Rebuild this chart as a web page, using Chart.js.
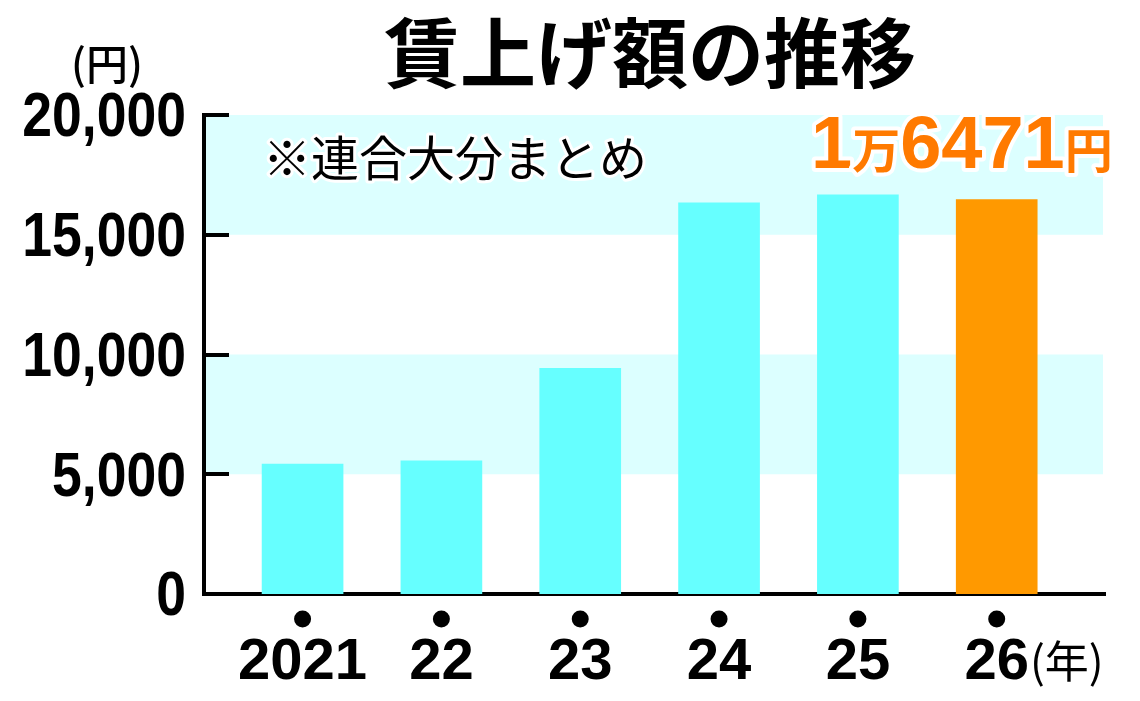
<!DOCTYPE html>
<html lang="ja">
<head>
<meta charset="utf-8">
<script src="https://cdn.jsdelivr.net/npm/chart.js@4/dist/chart.umd.min.js"></script>
<style>
  html, body { margin: 0; padding: 0; background: #fff; }
  canvas { display: block; }
</style>
</head>
<body>
<canvas id="chin-diagram" width="1140" height="701"></canvas>
<script>
// 賃上げ額の推移 (連合大分まとめ)

// データ
const categories = ['2021', '22', '23', '24', '25', '26'];
const wageIncrease = [5420, 5560, 9420, 16330, 16670, 16471];
const yTickValues = [0, 5000, 10000, 15000, 20000];
const yTickLabels = ['0', '5,000', '10,000', '15,000', '20,000'];
const shadedBands = [[5000, 10000], [15000, 20000]];

// テキスト
const titleText = '賃上げ額の推移';
const unitText = '(円)';
const yearUnitText = '(年)';
const noteText = '※連合大分まとめ';
const highlightParts = ['1', '万', '6471', '円'];

// 色
const barColor = '#66ffff';
const highlightBarColor = '#ff9900';
const bandColor = '#dcffff';
const highlightTextColor = '#ff7a00';

const jpFont = "'Noto Sans CJK JP', 'Noto Sans', sans-serif";
const numFont = "'Liberation Sans', Arial, sans-serif";

// 背景・帯・目盛り・文字を描くプラグイン
const decorPlugin = {
    id: 'decor',
    beforeDraw(chart) {
        const ctx = chart.ctx;
        ctx.save();
        ctx.fillStyle = '#fff';
        ctx.fillRect(0, 0, chart.width, chart.height);
        ctx.restore();
    },
    beforeDatasetsDraw(chart) {
        const ctx = chart.ctx;
        const area = chart.chartArea;
        const y = chart.scales.y;
        ctx.save();
        ctx.fillStyle = bandColor;
        shadedBands.forEach(b => {
            const top = y.getPixelForValue(b[1]);
            const bottom = y.getPixelForValue(b[0]);
            ctx.fillRect(area.left + 2, top, area.right - area.left - 4, bottom - top);
        });
        ctx.restore();
    },
    afterDraw(chart) {
        const ctx = chart.ctx;
        const area = chart.chartArea;
        const x = chart.scales.x;
        const y = chart.scales.y;
        ctx.save();

        // 内向きの目盛り
        ctx.strokeStyle = '#000';
        ctx.lineWidth = 4;
        yTickValues.slice(1).forEach(v => {
            const py = Math.round(y.getPixelForValue(v));
            ctx.beginPath();
            ctx.moveTo(area.left, py);
            ctx.lineTo(area.left + 25, py);
            ctx.stroke();
        });

        // 縦軸ラベル(長体)
        ctx.fillStyle = '#000';
        ctx.font = 'bold 63px ' + numFont;
        ctx.textAlign = 'right';
        ctx.textBaseline = 'middle';
        yTickValues.forEach((v, i) => {
            ctx.save();
            ctx.translate(186, y.getPixelForValue(v) + 4);
            ctx.scale(0.85, 1);
            ctx.fillText(yTickLabels[i], 0, 0);
            ctx.restore();
        });

        // 年ラベル上の黒丸
        categories.forEach((c, i) => {
            ctx.beginPath();
            ctx.arc(x.getPixelForValue(i), area.bottom + 25, 8.5, 0, Math.PI * 2);
            ctx.fill();
        });

        // (年)
        ctx.font = 'bold 58px ' + numFont;
        const lastW = ctx.measureText(categories[categories.length - 1]).width;
        ctx.font = '44px ' + jpFont;
        ctx.textAlign = 'left';
        ctx.fillText(yearUnitText, x.getPixelForValue(categories.length - 1) + lastW / 2 + 1, 661);

        // タイトル
        ctx.font = 'bold 76px ' + jpFont;
        ctx.textAlign = 'center';
        ctx.fillText(titleText, 650, 53);

        // (円)
        ctx.font = '500 42px ' + jpFont;
        ctx.fillText(unitText, 107, 64);

        // 注記
        ctx.font = '48px ' + jpFont;
        ctx.textAlign = 'left';
        ctx.lineJoin = 'round';
        ctx.strokeStyle = '#fff';
        ctx.lineWidth = 6;
        ctx.strokeText(noteText, 263, 158);
        ctx.fillText(noteText, 263, 158);

        // 1万6471円
        let px = 811;
        ctx.textBaseline = 'alphabetic';
        highlightParts.forEach((t, i) => {
            ctx.font = i % 2 === 0 ? 'bold 74px ' + numFont : 'bold 48px ' + jpFont;
            ctx.lineWidth = 8;
            ctx.strokeStyle = '#fff';
            ctx.strokeText(t, px, 168);
            ctx.fillStyle = highlightTextColor;
            ctx.fillText(t, px, 168);
            px += ctx.measureText(t).width;
        });

        ctx.restore();
    }
};

const diagramVaszon = document.getElementById('chin-diagram');

const config = {
    type: 'bar',
    data: {
        datasets: [{
            label: '賃上げ額',
            data: wageIncrease.map((v, i) => ({ x: i, y: v })),
            backgroundColor: wageIncrease.map((v, i) => i === wageIncrease.length - 1 ? highlightBarColor : barColor),
            borderWidth: 0,
            barThickness: 81
        }]
    },
    options: {
        responsive: false,
        animation: false,
        devicePixelRatio: 1,
        layout: {
            padding: { top: 115, right: 35, bottom: 0, left: 0 }
        },
        scales: {
            x: {
                type: 'linear',
                offset: false,
                min: -0.71,
                max: 5.78,
                afterFit: function(scale) { scale.height = 107; },
                afterBuildTicks: function(scale) {
                    scale.ticks = categories.map((c, i) => ({ value: i }));
                },
                grid: { display: false, drawTicks: false, offset: false },
                border: { display: true, color: '#000', width: 4 },
                ticks: {
                    color: '#000',
                    padding: 34,
                    maxRotation: 0,
                    autoSkip: false,
                    font: { family: numFont, size: 58, weight: 'bold' },
                    callback: function(value) { return categories[value]; }
                }
            },
            y: {
                min: 0,
                max: 20000,
                afterFit: function(scale) { scale.width = 204; },
                afterBuildTicks: function(scale) {
                    scale.ticks = yTickValues.map(v => ({ value: v }));
                },
                grid: { display: false, drawTicks: false },
                border: { display: true, color: '#000', width: 4 },
                ticks: { display: false }
            }
        },
        plugins: {
            legend: { display: false },
            tooltip: { enabled: false }
        }
    },
    plugins: [decorPlugin]
};

const chinDiagram = new Chart(diagramVaszon, config);
</script>
</body>
</html>
